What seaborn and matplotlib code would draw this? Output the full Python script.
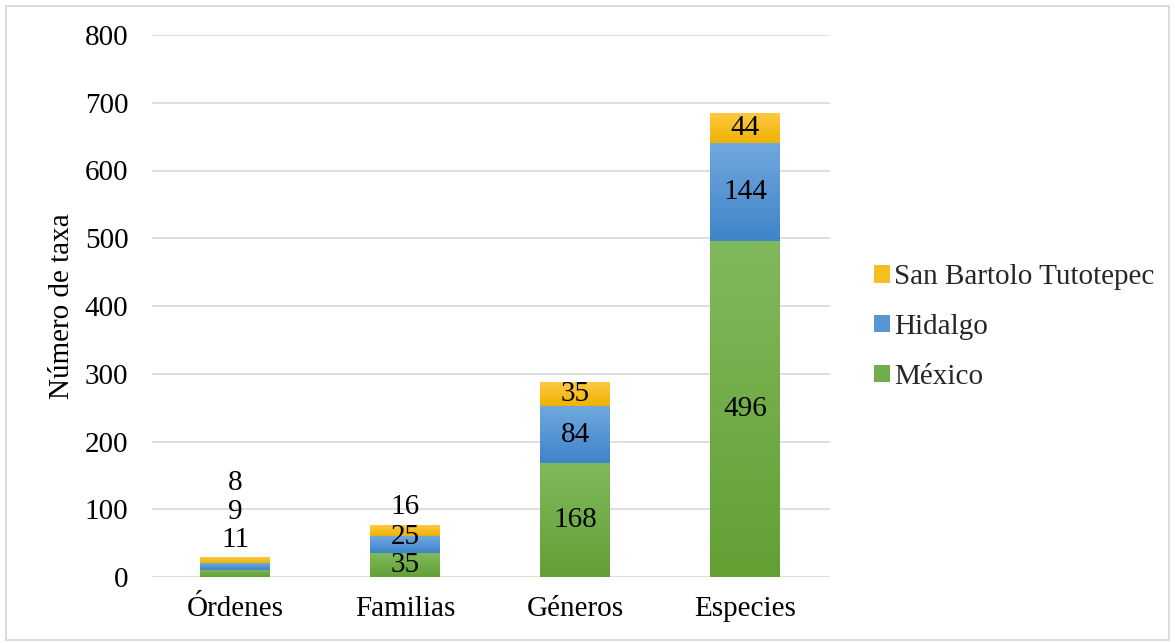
import numpy as np
import pandas as pd
import matplotlib
matplotlib.use("Agg")
import matplotlib.pyplot as plt
from matplotlib.colors import to_rgb
from matplotlib.patches import Rectangle
import seaborn as sns

# Taxonomic counts per rank
categories = ["Órdenes", "Familias", "Géneros", "Especies"]
mexico = [11, 35, 168, 496]
hidalgo = [9, 25, 84, 144]
san_bartolo = [8, 16, 35, 44]
series_names = ["México", "Hidalgo", "San Bartolo Tutotepec"]
y_ticks = [0, 100, 200, 300, 400, 500, 600, 700, 800]

# (top colour, bottom colour) of each segment's vertical gradient
gradients = {
    "México": ("#80b95c", "#62a034"),
    "Hidalgo": ("#70a8de", "#3f84c9"),
    "San Bartolo Tutotepec": ("#ffc843", "#eeb300"),
}

sns.set_theme(style="white")
plt.rcParams["font.family"] = ["Liberation Serif", "DejaVu Serif"]
FS = 21

values = np.array([mexico, hidalgo, san_bartolo], dtype=float)
cum = np.cumsum(values, axis=0)
df = pd.DataFrame({"rank": categories})
for i, name in enumerate(series_names):
    df[name] = cum[i]

fig = plt.figure(figsize=(11.75, 6.43), dpi=100)
ax = fig.add_axes([152 / 1175, 1 - 577 / 643, (830 - 152) / 1175, (577 - 35) / 643])

# Stacked bars: draw cumulative totals from the top series down
bar_sets = {}
for name in reversed(series_names):
    n_before = len(ax.patches)
    mid = tuple((np.array(to_rgb(gradients[name][0])) + np.array(to_rgb(gradients[name][1]))) / 2)
    sns.barplot(data=df, x="rank", y=name, order=categories, color=mid,
                width=0.41, ax=ax, linewidth=0, zorder=2)
    bar_sets[name] = ax.patches[n_before:]

# Paint each visible segment with its gradient
for i, name in enumerate(series_names):
    top_c, bot_c = (np.array(to_rgb(c)) for c in gradients[name])
    t = np.linspace(0, 1, 64)[:, None]
    img = (top_c * (1 - t) + bot_c * t)[:, None, :]
    for j, patch in enumerate(bar_sets[name]):
        x0 = patch.get_x()
        x1 = x0 + patch.get_width()
        y1 = patch.get_height()
        y0 = bar_sets[series_names[i - 1]][j].get_height() if i > 0 else 0.0
        ax.imshow(img, extent=(x0, x1, y0, y1), aspect="auto",
                  interpolation="bilinear", zorder=3)

# Value labels: inside the segment when it fits, otherwise stacked above the bar;
# labels inside are pushed up when they would collide with the one below
px_per_unit = (577 - 35) / 800
min_gap = 28 / px_per_unit
for j, cat in enumerate(categories):
    above = 0
    total = cum[-1][j]
    last_y = -np.inf
    for i, name in enumerate(series_names):
        v = values[i][j]
        lo = cum[i - 1][j] if i > 0 else 0
        if v * px_per_unit >= 14:
            y = max(lo + v / 2, last_y + min_gap)
            ax.text(j, y, f"{int(v)}", ha="center", va="center",
                    fontsize=FS, color="black", zorder=5)
            last_y = y
        else:
            ax.annotate(f"{int(v)}", xy=(j, total), xytext=(0, 13 + 20.5 * above),
                        textcoords="offset points", ha="center", va="center",
                        fontsize=FS, color="black", zorder=5)
            above += 1

ax.set_xlim(-0.49, 3.5)
ax.set_ylim(0, 800)
ax.set_yticks(y_ticks)
ax.set_yticklabels([str(v) for v in y_ticks])
ax.grid(axis="y", color="#d9d9d9", linewidth=1.2, zorder=0)
ax.grid(axis="x", visible=False)
ax.set_axisbelow(True)
for s in ax.spines.values():
    s.set_visible(False)
ax.tick_params(axis="y", length=0, pad=17, labelsize=FS, labelcolor="black")
ax.tick_params(axis="x", length=0, pad=14, labelsize=FS, labelcolor="black")
ax.set_xlabel("")
ax.set_ylabel("Número de taxa", fontsize=FS, color="black", labelpad=7)

# Legend (top series first)
handles = [Rectangle((0, 0), 1, 1,
                     facecolor=tuple((np.array(to_rgb(gradients[n][0])) + np.array(to_rgb(gradients[n][1]))) / 2),
                     linewidth=0)
           for n in reversed(series_names)]
fig.legend(handles, list(reversed(series_names)), loc="center left",
           bbox_to_anchor=(862 / 1175, 1 - 327 / 643), frameon=False,
           fontsize=FS, handlelength=0.55, handleheight=0.55,
           handletextpad=0.15, labelspacing=0.82, borderaxespad=0)

# Thin frame around the whole figure
fig.patches.append(Rectangle((6 / 1175, 3 / 643), 1 - 12 / 1175, 1 - 9 / 643,
                             transform=fig.transFigure, fill=False,
                             edgecolor="#d9d9d9", linewidth=1.3))

fig.savefig("out.png", dpi=100, facecolor="white")
